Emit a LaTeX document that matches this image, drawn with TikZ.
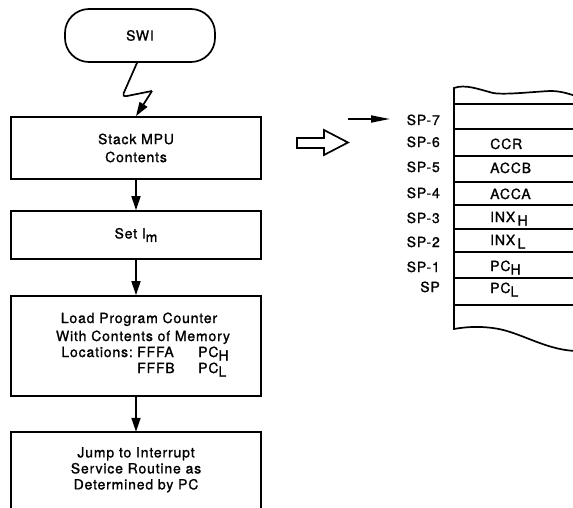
\documentclass[tikz,border=0pt]{standalone}
\usepackage{fontspec}
\setmainfont{TeX Gyre Heros}[LetterSpace=6,FakeBold=1.2]
\usetikzlibrary{arrows.meta}
\newcommand\lowr[1]{\raisebox{-3.5pt}{#1}}
\begin{document}
\begin{tikzpicture}[x=1pt,y=-1pt,
  lw/.style={line width=1.7pt},
  term/.style={lw,draw,rounded corners=24pt,minimum width=150pt,minimum height=53pt,inner sep=0pt},
  box/.style={lw,draw,minimum width=250pt,align=center,inner sep=0pt,font=\fontsize{14}{18}\selectfont},
  txt/.style={inner sep=0pt,font=\fontsize{14}{16}\selectfont},
  arr/.style={lw,-{Triangle[length=14pt,width=9pt]}},
  sarr/.style={lw,-{Triangle[length=19pt,width=7pt]}}]
\useasboundingbox (0,0) rectangle (573,508);
% flowchart
\node[term,font=\fontsize{14}{16}\selectfont] (swi) at (140,35.5) {SWI};
\node[box,minimum height=62pt] (b1) at (136,148) {Stack MPU\\Contents};
\node[box,minimum height=48pt] (b2) at (136,235) {Set I\lowr{m}};
\node[box,minimum height=100pt] (b3) at (136,346) {};
\node[txt,anchor=base] (l1) at (139,323) {Load Program Counter};
\node[txt,anchor=base] (l2) at (143,341) {With Contents of Memory};
\node[txt,anchor=base east] (l3) at (133,357) {Locations:};
\node[txt,anchor=base west] (l3a) at (137,357) {FFFA};
\node[txt,anchor=base west] (l3b) at (198,357) {PC\lowr{H}};
\node[txt,anchor=base west] (l4a) at (137,373) {FFFB};
\node[txt,anchor=base west] (l4b) at (198,373) {PC\lowr{L}};
\node[minimum width=250pt,minimum height=80pt,inner sep=0pt] (b4) at (136,472) {};
\draw[lw] (b4.south west) -- (b4.north west) -- (b4.north east) -- (b4.south east);
\node[txt,align=center,anchor=north] (t4) at (136,447) {Jump to Interrupt\\Service Routine as\\Determined by PC};
% connectors
\coordinate (z1) at (122,97);
\coordinate (z2) at (152,91);
\draw[lw,rounded corners=4pt] (swi.south) ++(-3,0) -- (z1) -- (z2);
\draw[arr] (z2) -- (b1.north);
\draw[arr] (b1.south) -- (b2.north);
\draw[arr] (b2.south) -- (b3.north);
\draw[arr] (b3.south) -- (b4.north);
% hollow arrow
\draw[lw] (297,138) -- (324,138) -- (324,130) -- (348,142.5) -- (324,155) -- (324,148) -- (297,148) -- cycle;
% stack
\draw[lw] (576,96) .. controls (566,93) and (560,91) .. (550,91)
  .. controls (530,92) and (505,95) .. (493,93)
  .. controls (478,89) and (465,84) .. (454,88)
  -- (454,329)
  .. controls (470,326) and (490,326) .. (507,331)
  .. controls (530,338) and (550,350) .. (576,351);
\foreach \yy in {104,129,156,182,205,229,252,278,305}
  \draw[lw] (454,\yy) -- (576,\yy);
\begin{scope}[every node/.style={txt}]
\node[anchor=base east] (sp7) at (440,125) {SP-7};
\node[anchor=base east] (sp6) at (440,147) {SP-6};
\node[anchor=base east] (sp5) at (440,172) {SP-5};
\node[anchor=base east] (sp4) at (440,198) {SP-4};
\node[anchor=base east] (sp3) at (440,223) {SP-3};
\node[anchor=base east] (sp2) at (440,247) {SP-2};
\node[anchor=base east] (sp1) at (440,272) {SP-1};
\node[anchor=base east] (sp0) at (440,292) {SP};
\node[anchor=base west] (ccr) at (490,149) {CCR};
\node[anchor=base west] (accb) at (490,173) {ACCB};
\node[anchor=base west] (acca) at (490,199) {ACCA};
\node[anchor=base west] (inxh) at (490,222) {INX\,\lowr{H}};
\node[anchor=base west] (inxl) at (490,245) {INX\,\lowr{L}};
\node[anchor=base west] (pch) at (490,271) {PC\lowr{H}};
\node[anchor=base west] (pcl) at (490,293) {PC\lowr{L}};
\end{scope}
\coordinate (p1) at (348,119);
\coordinate (p2) at (390,119);
\draw[sarr] (p1) -- (p2);
\end{tikzpicture}
\end{document}
